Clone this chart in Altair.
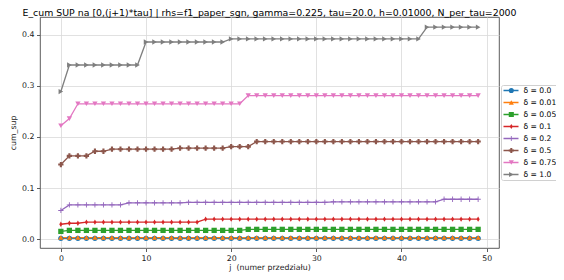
import altair as alt
import pandas as pd

J = list(range(50))

LABELS = ["δ = 0.0", "δ = 0.01", "δ = 0.05", "δ = 0.1",
          "δ = 0.2", "δ = 0.5", "δ = 0.75", "δ = 1.0"]
COLORS = ["#1f77b4", "#ff7f0e", "#2ca02c", "#d62728",
          "#9467bd", "#8c564b", "#e377c2", "#7f7f7f"]
THIN_DIAMOND = "M0,-1L0.6,0L0,1L-0.6,0Z"
THIN_PLUS = ("M-1,-0.17L-0.17,-0.17L-0.17,-1L0.17,-1L0.17,-0.17L1,-0.17"
             "L1,0.17L0.17,0.17L0.17,1L-0.17,1L-0.17,0.17L-1,0.17Z")
SHAPES = ["circle", "triangle-up", "square", THIN_DIAMOND,
          THIN_PLUS, "cross", "triangle-down", "triangle-right"]

D_00 = [0.0015, 0.0015, 0.0015, 0.0015, 0.0015, 0.0015, 0.0015, 0.0015, 0.0015, 0.0015,
        0.0015, 0.0015, 0.0015, 0.0015, 0.0015, 0.0015, 0.0015, 0.0015, 0.0015, 0.0015,
        0.0015, 0.0015, 0.0015, 0.0015, 0.0015, 0.0015, 0.0015, 0.0015, 0.0015, 0.0015,
        0.0015, 0.0015, 0.0015, 0.0015, 0.0015, 0.0015, 0.0015, 0.0015, 0.0015, 0.0015,
        0.0015, 0.0015, 0.0015, 0.0015, 0.0015, 0.0015, 0.0015, 0.0015, 0.0015, 0.0015]
D_001 = [0.003, 0.003, 0.003, 0.003, 0.003, 0.003, 0.003, 0.003, 0.003, 0.003,
         0.003, 0.003, 0.003, 0.003, 0.003, 0.003, 0.003, 0.003, 0.003, 0.003,
         0.003, 0.003, 0.003, 0.003, 0.003, 0.003, 0.003, 0.003, 0.003, 0.003,
         0.003, 0.003, 0.003, 0.003, 0.003, 0.003, 0.003, 0.003, 0.003, 0.003,
         0.003, 0.003, 0.003, 0.003, 0.003, 0.003, 0.003, 0.003, 0.003, 0.003]
D_005 = [0.015, 0.017, 0.017, 0.017, 0.017, 0.017, 0.017, 0.017, 0.017, 0.017,
         0.017, 0.017, 0.017, 0.017, 0.017, 0.017, 0.017, 0.017, 0.017, 0.017,
         0.017, 0.017, 0.019, 0.019, 0.019, 0.019, 0.019, 0.019, 0.019, 0.019,
         0.019, 0.019, 0.019, 0.019, 0.019, 0.019, 0.019, 0.019, 0.019, 0.019,
         0.019, 0.019, 0.019, 0.019, 0.019, 0.019, 0.019, 0.019, 0.019, 0.019]
D_01 = [0.029, 0.031, 0.031, 0.033, 0.033, 0.033, 0.033, 0.033, 0.033, 0.033,
        0.033, 0.033, 0.033, 0.033, 0.033, 0.033, 0.033, 0.039, 0.039, 0.039,
        0.039, 0.039, 0.039, 0.039, 0.039, 0.039, 0.039, 0.039, 0.039, 0.039,
        0.039, 0.039, 0.039, 0.039, 0.039, 0.039, 0.039, 0.039, 0.039, 0.039,
        0.039, 0.039, 0.039, 0.039, 0.039, 0.039, 0.039, 0.039, 0.039, 0.039]
D_02 = [0.056, 0.067, 0.067, 0.067, 0.067, 0.067, 0.067, 0.067, 0.071, 0.071,
        0.071, 0.071, 0.071, 0.071, 0.071, 0.072, 0.072, 0.072, 0.072, 0.072,
        0.072, 0.072, 0.072, 0.072, 0.072, 0.072, 0.072, 0.072, 0.072, 0.072,
        0.072, 0.072, 0.073, 0.073, 0.073, 0.073, 0.073, 0.073, 0.073, 0.073,
        0.073, 0.073, 0.073, 0.073, 0.073, 0.078, 0.078, 0.078, 0.078, 0.078]
D_05 = [0.146, 0.163, 0.163, 0.163, 0.172, 0.172, 0.176, 0.176, 0.176, 0.176,
        0.176, 0.176, 0.176, 0.176, 0.178, 0.178, 0.178, 0.178, 0.178, 0.178,
        0.181, 0.181, 0.181, 0.191, 0.191, 0.191, 0.191, 0.191, 0.191, 0.191,
        0.191, 0.191, 0.191, 0.191, 0.191, 0.191, 0.191, 0.191, 0.191, 0.191,
        0.191, 0.191, 0.191, 0.191, 0.191, 0.191, 0.191, 0.191, 0.191, 0.191]
D_075 = [0.222, 0.236, 0.265, 0.265, 0.265, 0.265, 0.265, 0.265, 0.265, 0.265,
         0.265, 0.265, 0.265, 0.265, 0.265, 0.265, 0.265, 0.265, 0.265, 0.265,
         0.265, 0.265, 0.281, 0.281, 0.281, 0.281, 0.281, 0.281, 0.281, 0.281,
         0.281, 0.281, 0.281, 0.281, 0.281, 0.281, 0.281, 0.281, 0.281, 0.281,
         0.281, 0.281, 0.281, 0.281, 0.281, 0.281, 0.281, 0.281, 0.281, 0.281]
D_10 = [0.289, 0.341, 0.341, 0.341, 0.341, 0.341, 0.341, 0.341, 0.341, 0.341,
        0.386, 0.386, 0.386, 0.386, 0.386, 0.386, 0.386, 0.386, 0.386, 0.386,
        0.392, 0.392, 0.392, 0.392, 0.392, 0.392, 0.392, 0.392, 0.392, 0.392,
        0.392, 0.392, 0.392, 0.392, 0.392, 0.392, 0.392, 0.392, 0.392, 0.392,
        0.392, 0.392, 0.392, 0.415, 0.415, 0.415, 0.415, 0.415, 0.415, 0.415]

SERIES = [D_00, D_001, D_005, D_01, D_02, D_05, D_075, D_10]

rows = []
for lab, vals in zip(LABELS, SERIES):
    for jj, v in zip(J, vals):
        rows.append({"j": jj, "v": v, "lab": lab, "lab2": lab})
df = pd.DataFrame(rows)

FONT = "DejaVu Sans"

x = alt.X("j:Q",
          scale=alt.Scale(domain=[-2.45, 51.45], nice=False, zero=False),
          axis=alt.Axis(values=[0, 10, 20, 30, 40, 50], format="d",
                        title="j\u00a0 (numer przedziału)", titlePadding=2))
y = alt.Y("v:Q",
          scale=alt.Scale(domain=[-0.0175, 0.435], nice=False, zero=False),
          axis=alt.Axis(values=[0.0, 0.1, 0.2, 0.3, 0.4], format=".1f",
                        title="cum_sup", titlePadding=4))

lines = alt.Chart(df).mark_line(strokeWidth=1.3).encode(
    x=x, y=y,
    stroke=alt.Stroke("lab:N",
                      scale=alt.Scale(domain=LABELS, range=COLORS),
                      legend=alt.Legend(title=None, orient="none",
                                        legendX=461, legendY=68,
                                        symbolType="stroke", symbolSize=225,
                                        symbolStrokeWidth=1.3,
                                        labelFont=FONT, labelFontSize=7.6,
                                        labelColor="#000000", labelOffset=4,
                                        rowPadding=4, clipHeight=8, padding=1.5,
                                        strokeColor="#d0d0d0", fillColor="white",
                                        cornerRadius=2, zindex=0)),
)

shape_legend = alt.Legend(
    title=None, orient="none", legendX=466, legendY=68,
    symbolSize=26, symbolStrokeWidth=0, labelFont=FONT, labelFontSize=7.6,
    labelExpr="''", rowPadding=4, clipHeight=8, padding=1.5, zindex=1)

points = alt.Chart(df).mark_point(filled=True, size=28, opacity=1,
                                  strokeWidth=0).encode(
    x=x, y=y,
    fill=alt.Fill("lab2:N", scale=alt.Scale(range=COLORS), legend=shape_legend),
    shape=alt.Shape("lab2:N", scale=alt.Scale(range=SHAPES), legend=shape_legend),
)

chart = alt.layer(lines, points).properties(
    width=459, height=231,
    title=alt.TitleParams(
        text="E_cum SUP na [0,(j+1)*tau] | rhs=f1_paper_sgn, gamma=0.225, tau=20.0, h=0.01000, N_per_tau=2000",
        font=FONT, fontSize=9.4, fontWeight="normal", color="#000000",
        anchor="middle", frame="group", offset=-8, baseline="alphabetic"),
    autosize=alt.AutoSizeParams(type="none"),
    padding={"left": 32, "top": 9, "right": 57, "bottom": 24},
).configure_view(
    stroke="#333333", strokeWidth=0.8
).configure_axis(
    domain=False,
    grid=True, gridColor="#d9d9d9", gridWidth=0.8,
    ticks=True, tickColor="#333333", tickSize=3.5, tickWidth=0.8,
    labelFont=FONT, labelFontSize=7.8, labelColor="#222222", labelPadding=2.5,
    titleFont=FONT, titleFontSize=7.8, titleFontWeight="normal", titleColor="#222222",
)

chart.save("out.html", embed_options={"renderer": "svg", "actions": False})
